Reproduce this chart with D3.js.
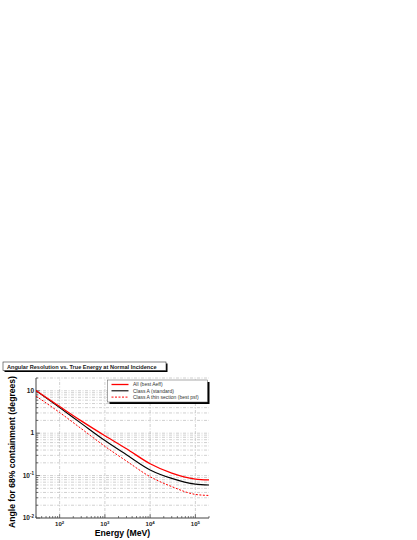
<script src="https://cdn.jsdelivr.net/npm/d3@7"></script>
<style>
body { margin: 0; background: #fff; }
svg { display: block; font-family: "Liberation Sans", Arial, sans-serif; }
.grid line { stroke: #b0b0b0; stroke-width: 0.6; stroke-dasharray: 3,1.5,1,1.5; }
</style>
<svg width="417" height="540"></svg>
<script>
const energies = [30, 100, 300, 1000, 3000, 10000, 30000, 100000, 200000];
const allBestAeff = [10.1, 4.25, 1.95, 0.87, 0.43, 0.19, 0.114, 0.083, 0.079];
const classAStandard = [10.1, 4.0, 1.70, 0.67, 0.31, 0.136, 0.086, 0.063, 0.060];
const classAThin = [7.5, 3.07, 1.28, 0.49, 0.22, 0.094, 0.055, 0.036, 0.034];
const seriesNames = ['All (best Aeff)', 'Class A (standard)', 'Class A thin section (best psf)'];
const xTickExps = [2, 3, 4, 5];
const yTickLabels = [[0.01, '10', '-2'], [0.1, '10', '-1'], [1, '1', ''], [10, '10', '']];

const svg = d3.select('svg');
const x = d3.scaleLog().domain([30, 2e5]).range([36, 209]);
const y = d3.scaleLog().domain([0.01, 20]).range([518, 378]);

// grid
const grid = svg.append('g').attr('class', 'grid');
const yMinor = [];
[0.01, 0.1, 1, 10].forEach(d => { for (let k = 1; k < 10; k++) { const v = d * k; if (v <= 20 && v > 0.01) yMinor.push(v); } });
grid.selectAll('.hy').data(yMinor).enter().append('line')
  .attr('x1', x.range()[0]).attr('x2', x.range()[1])
  .attr('y1', d => y(d)).attr('y2', d => y(d));
grid.selectAll('.vx').data(xTickExps).enter().append('line')
  .attr('y1', y.range()[0]).attr('y2', y.range()[1])
  .attr('x1', d => x(Math.pow(10, d))).attr('x2', d => x(Math.pow(10, d)));

// axes
const xMinor = [];
[10, 100, 1000, 10000, 100000].forEach(d => { for (let k = 1; k < 10; k++) { const v = d * k; if (v >= 30 && v <= 2e5) xMinor.push(v); } });
const ax = svg.append('g');
ax.append('line').attr('x1', 36).attr('x2', 209).attr('y1', 518).attr('y2', 518).attr('stroke', '#444').attr('stroke-width', 1);
ax.append('line').attr('x1', 36).attr('x2', 36).attr('y1', 378).attr('y2', 518).attr('stroke', '#444').attr('stroke-width', 1);
ax.selectAll('.xt').data(xMinor).enter().append('line')
  .attr('x1', d => x(d)).attr('x2', d => x(d))
  .attr('y1', 518).attr('y2', d => (Math.log10(d) % 1 === 0) ? 514 : 516)
  .attr('stroke', '#444').attr('stroke-width', 0.7);
ax.selectAll('.yt').data(yMinor.concat([0.01])).enter().append('line')
  .attr('y1', d => y(d)).attr('y2', d => y(d))
  .attr('x1', 36).attr('x2', d => (Math.abs(Math.log10(d) % 1) < 1e-9) ? 40 : 38)
  .attr('stroke', '#444').attr('stroke-width', 0.7);

// tick labels
const xl = svg.selectAll('.xl').data(xTickExps).enter().append('text')
  .attr('x', d => x(Math.pow(10, d))).attr('y', 526)
  .attr('text-anchor', 'middle').attr('font-size', 6).attr('font-weight', 'bold').attr('fill', '#222');
xl.append('tspan').text('10');
xl.append('tspan').attr('dy', -2.5).attr('font-size', 4.3).text(d => d);

const yl = svg.selectAll('.yl').data(yTickLabels).enter().append('text')
  .attr('x', 34).attr('y', d => y(d[0]) + 2.3)
  .attr('text-anchor', 'end').attr('font-size', 6.5).attr('font-weight', 'bold').attr('fill', '#222');
yl.append('tspan').text(d => d[1]);
yl.filter(d => d[2]).append('tspan').attr('dy', -2.5).attr('font-size', 4.5).text(d => d[2]);

// curves
const line = d3.line().x((d, i) => x(energies[i])).y(d => y(d)).curve(d3.curveMonotoneX);
svg.append('clipPath').attr('id', 'pc').append('rect').attr('x', 36).attr('y', 376).attr('width', 173).attr('height', 142);
const curves = svg.append('g').attr('clip-path', 'url(#pc)');
curves.append('path').attr('d', line(classAThin)).attr('fill', 'none').attr('stroke', '#ff0000').attr('stroke-width', 1).attr('stroke-dasharray', '2,1.5');
curves.append('path').attr('d', line(classAStandard)).attr('fill', 'none').attr('stroke', '#000').attr('stroke-width', 1.1);
curves.append('path').attr('d', line(allBestAeff)).attr('fill', 'none').attr('stroke', '#ff0000').attr('stroke-width', 1.3);

// legend
const lg = svg.append('g');
lg.append('rect').attr('x', 109.5).attr('y', 382).attr('width', 100).attr('height', 22).attr('fill', '#000');
lg.append('rect').attr('x', 107.5).attr('y', 380).attr('width', 100).attr('height', 22).attr('fill', '#fff').attr('stroke', '#555').attr('stroke-width', 0.5);
const legStyles = [['#ff0000', 1.3, null], ['#000', 1.1, null], ['#ff0000', 1, '2,1.5']];
seriesNames.forEach((name, i) => {
  const ly = 384.5 + i * 6.3;
  lg.append('line').attr('x1', 111.5).attr('x2', 128.5).attr('y1', ly).attr('y2', ly)
    .attr('stroke', legStyles[i][0]).attr('stroke-width', legStyles[i][1]).attr('stroke-dasharray', legStyles[i][2]);
  lg.append('text').attr('x', 133).attr('y', ly + 1.8).attr('font-size', 5).attr('fill', '#333').text(name);
});

// title box
svg.append('rect').attr('x', 4.5).attr('y', 363.5).attr('width', 163).attr('height', 8.5).attr('fill', '#000');
svg.append('rect').attr('x', 3).attr('y', 362).attr('width', 163).attr('height', 8.5).attr('fill', '#fff').attr('stroke', '#333').attr('stroke-width', 0.6);
svg.append('text').attr('x', 7).attr('y', 368.6).attr('font-size', 5.6).attr('font-weight', 'bold').attr('fill', '#222')
  .text('Angular Resolution vs. True Energy at Normal Incidence');

// axis titles
svg.append('text').attr('x', 122.5).attr('y', 535.5).attr('text-anchor', 'middle').attr('font-size', 8.7).attr('font-weight', 'bold').text('Energy (MeV)');
svg.append('text').attr('transform', 'translate(15,452) rotate(-90)').attr('text-anchor', 'middle').attr('font-size', 8.6).attr('font-weight', 'bold').text('Angle for 68% containment (degrees)');
</script>
